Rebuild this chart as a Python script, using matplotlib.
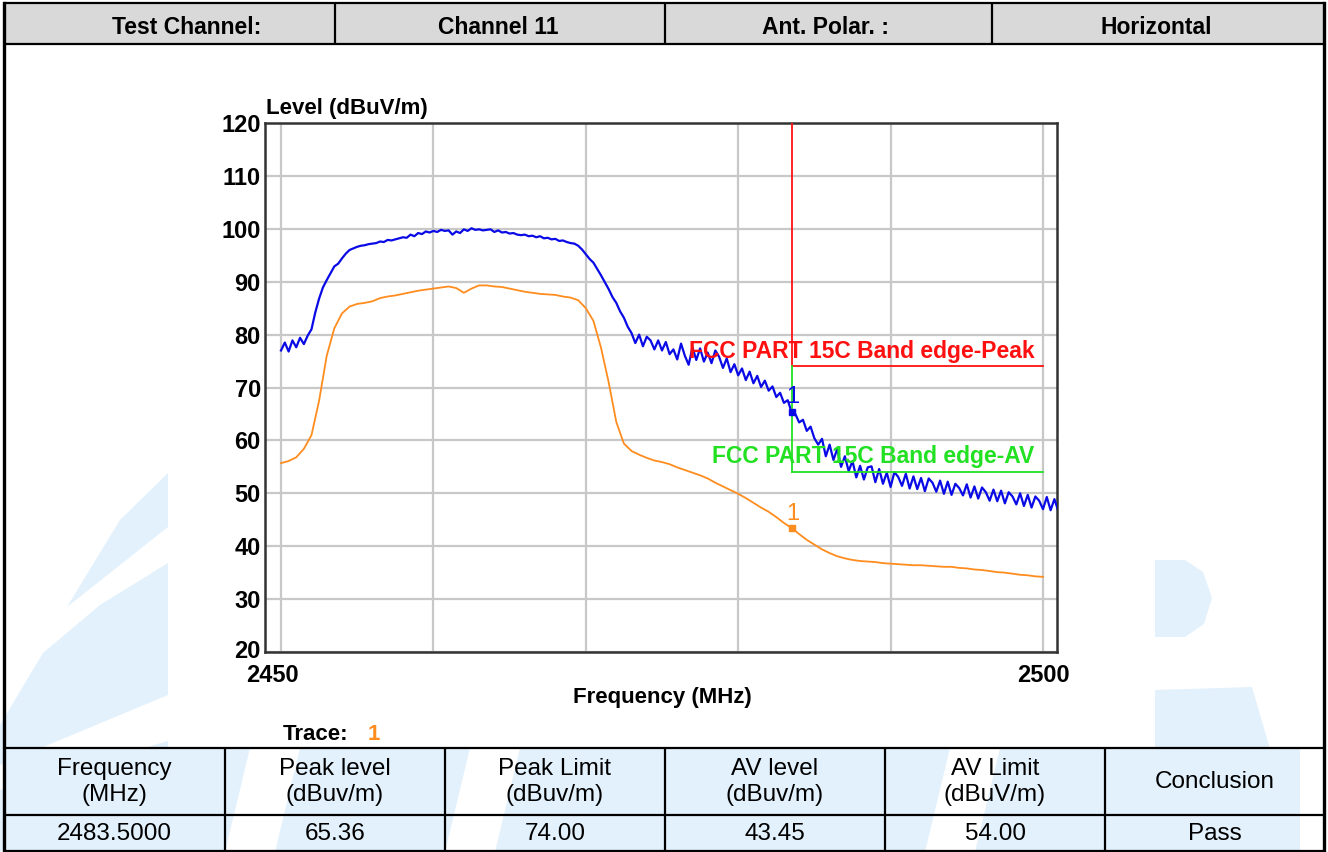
import matplotlib
matplotlib.use("Agg")
import matplotlib.pyplot as plt
from matplotlib.patches import Rectangle, Polygon
from matplotlib.transforms import ScaledTranslation

# ---------------- data ----------------
peak_freq_start, peak_freq_step = 2450.0, 0.25
peak_level = [
    77.0, 78.5, 76.8, 78.9, 77.6, 79.4, 78.2, 79.8, 81.0, 84.2,
    86.8, 88.9, 90.3, 91.6, 92.9, 93.4, 94.4, 95.3, 96.0, 96.3,
    96.6, 96.8, 96.9, 97.1, 97.2, 97.3, 97.6, 97.5, 97.9, 97.8,
    98.0, 98.2, 98.4, 98.3, 98.9, 98.6, 99.2, 99.0, 99.5, 99.3,
    99.6, 99.4, 99.8, 99.6, 99.7, 98.9, 99.5, 99.2, 99.9, 99.6,
    100.1, 99.8, 99.9, 99.7, 99.8, 99.9, 99.4, 99.7, 99.3, 99.4,
    99.1, 99.2, 98.9, 98.8, 98.9, 98.6, 98.7, 98.4, 98.6, 98.2,
    98.3, 98.0, 98.1, 97.7, 97.8, 97.5, 97.3, 97.2, 96.8, 96.1,
    95.2, 94.3, 93.6, 92.4, 91.2, 89.9, 88.6, 87.1, 86.0, 84.4,
    83.2, 81.5, 80.3, 78.4, 80.0, 77.8, 79.6, 78.9, 77.2, 78.9,
    77.0, 78.6, 76.3, 77.2, 75.3, 78.3, 76.0, 74.3, 77.6, 75.2,
    77.4, 74.9, 76.6, 74.6, 77.0, 75.8, 73.7, 75.5, 72.9, 74.4,
    72.3, 73.6, 71.4, 73.0, 70.8, 72.2, 70.1, 71.3, 69.4, 70.2,
    68.2, 69.0, 67.1, 67.6, 65.36, 65.0, 63.4, 63.9, 61.8, 62.6,
    60.4, 59.2, 60.3, 57.0, 59.2, 56.3, 58.4, 55.0, 57.0, 54.2,
    56.1, 53.0, 55.2, 52.6, 54.9, 55.1, 52.1, 54.6, 51.8, 53.9,
    51.2, 54.0, 53.1, 51.4, 53.7, 50.9, 53.2, 50.8, 52.9, 50.4,
    52.8, 52.0, 50.3, 52.4, 49.9, 52.2, 49.7, 51.8, 51.0, 49.6,
    51.7, 49.2, 51.3, 49.0, 51.1, 50.2, 48.6, 50.7, 48.5, 50.5,
    48.1, 50.2, 49.4, 47.9, 50.0, 47.6, 49.7, 47.3, 49.4, 48.6,
    47.0, 49.3, 46.8, 48.9, 46.7, 48.6, 47.9, 46.6, 48.2, 47.0,
    47.5,
]
av_freq_start, av_freq_step = 2450.0, 0.5
av_level = [
    55.7, 56.1, 56.8, 58.4, 61.0, 67.5, 76.0, 81.2, 84.0, 85.3,
    85.8, 86.0, 86.3, 86.9, 87.2, 87.4, 87.7, 88.0, 88.3, 88.5,
    88.7, 88.9, 89.1, 88.8, 87.9, 88.7, 89.3, 89.3, 89.1, 89.0,
    88.7, 88.4, 88.1, 87.9, 87.7, 87.6, 87.5, 87.2, 87.0, 86.5,
    85.0, 82.6, 77.5, 71.0, 63.5, 59.4, 58.0, 57.3, 56.7, 56.2,
    55.9, 55.5, 54.9, 54.4, 53.9, 53.4, 52.8, 52.0, 51.3, 50.6,
    49.9, 49.1, 48.2, 47.3, 46.5, 45.5, 44.4, 43.45, 42.3, 41.2,
    40.3, 39.4, 38.7, 38.1, 37.7, 37.4, 37.2, 37.1, 37.0, 36.8,
    36.7, 36.6, 36.5, 36.4, 36.4, 36.3, 36.2, 36.1, 36.1, 35.9,
    35.8, 35.6, 35.5, 35.3, 35.1, 35.0, 34.8, 34.6, 34.5, 34.3,
    34.2,
]
x_ticks = [2450, 2460, 2470, 2480, 2490, 2500]
x_tick_labels = ["2450", "", "", "", "", "2500"]
y_ticks = [20, 30, 40, 50, 60, 70, 80, 90, 100, 110, 120]

edge_freq = 2483.5
peak_limit = 74.0
av_limit = 54.0
marker_peak = 65.36
marker_av = 43.45
limit_top = 120.0
freq_end = 2500.0

header_cells = ["Test Channel:", "Channel 11", "Ant. Polar. :", "Horizontal"]
table_head = ["Frequency\n(MHz)", "Peak level\n(dBuv/m)", "Peak Limit\n(dBuv/m)",
              "AV level\n(dBuv/m)", "AV Limit\n(dBuV/m)", "Conclusion"]
table_row = ["2483.5000", "65.36", "74.00", "43.45", "54.00", "Pass"]

peak_freq = [peak_freq_start + i * peak_freq_step for i in range(len(peak_level))]
av_freq = [av_freq_start + i * av_freq_step for i in range(len(av_level))]

# ---------------- figure ----------------
W, H = 1328, 852
plt.rcParams['font.family'] = ['Liberation Sans', 'DejaVu Sans']
fig = plt.figure(figsize=(W / 100, H / 100), dpi=100)
fig.patch.set_facecolor('white')

bg = fig.add_axes([0, 0, 1, 1])
bg.set_xlim(0, W)
bg.set_ylim(H, 0)
bg.axis('off')

wm = '#e2f1fc'
# watermark shapes
bg.add_patch(Rectangle((4, 748), 1321, 104, facecolor=wm, edgecolor='none', zorder=0))
for pts in [
    [(168, 473), (120, 520), (67, 607), (168, 527)],
    [(168, 563), (100, 605), (43, 653), (0, 725), (0, 765), (168, 695)],
    [(0, 790), (168, 741), (168, 748), (0, 852)],
    [(1155, 560), (1185, 560), (1203, 572), (1212, 598), (1204, 624), (1185, 637), (1155, 637)],
    [(1155, 690), (1252, 687), (1300, 852), (1155, 852)],
]:
    bg.add_patch(Polygon(pts, closed=True, facecolor=wm, edgecolor='none', zorder=0))
for pts in [
    [(250, 748), (300, 748), (275, 852), (225, 852)],
    [(470, 748), (520, 748), (495, 852), (445, 852)],
    [(950, 748), (1000, 748), (975, 852), (925, 852)],
    [(1300, 748), (1325, 748), (1325, 852), (1300, 852)],
]:
    bg.add_patch(Polygon(pts, closed=True, facecolor='white', edgecolor='none', zorder=0.5))

# header
bg.add_patch(Rectangle((4, 3), 1321, 41, facecolor='#d9d9d9', edgecolor='none', zorder=1))
lk = dict(color='black', lw=1.6, zorder=3, solid_capstyle='butt')
bg.plot([4, 1325], [3, 3], **lk)
bg.plot([4, 1325], [44, 44], **lk)
for xv in [335, 665, 992]:
    bg.plot([xv, xv], [3, 44], **lk)
hx = [187, 498, 826, 1156]
for t, xc in zip(header_cells, hx):
    bg.text(xc, 27, t, ha='center', va='center', fontsize=16.5, fontweight='bold', zorder=4)

# outer frame
bg.plot([4, 4], [3, H], color='black', lw=2.4, zorder=3)
bg.plot([1324, 1324], [3, H], color='black', lw=2.4, zorder=3)

# bottom table
bg.plot([4, 1325], [748, 748], **lk)
bg.plot([4, 1325], [815, 815], **lk)
bg.plot([4, 1325], [851, 851], **lk)
col_edges = [4, 225, 445, 665, 885, 1105, 1325]
for xv in col_edges[1:-1]:
    bg.plot([xv, xv], [748, H], **lk)
for i in range(6):
    xc = (col_edges[i] + col_edges[i + 1]) / 2
    bg.text(xc, 782, table_head[i], ha='center', va='center', fontsize=17.5,
            linespacing=1.22, zorder=4)
    bg.text(xc, 834, table_row[i], ha='center', va='center', fontsize=17.5, zorder=4)

# ---------------- chart ----------------
L, R, T, B = 265, 1057, 123, 652
ax = fig.add_axes([L / W, 1 - B / H, (R - L) / W, (B - T) / H])
ax.set_facecolor('white')
ax.set_xlim(2448.95, 2500.92)
ax.set_ylim(20, 120)
ax.set_xticks(x_ticks)
ax.set_xticklabels(x_tick_labels)
ax.set_yticks(y_ticks)
ax.set_yticklabels([str(v) for v in y_ticks])
ax.grid(True, color='#c8c8c8', lw=1.6, zorder=0)
ax.tick_params(length=0, labelsize=17, pad=3)
ax.tick_params(axis='x', pad=9)
for lab in ax.get_xticklabels() + ax.get_yticklabels():
    lab.set_fontweight('bold')
xl = ax.get_xticklabels()[0]
xl.set_transform(xl.get_transform() + ScaledTranslation(-0.09, 0, fig.dpi_scale_trans))
yl = ax.get_yticklabels()[0]
yl.set_transform(yl.get_transform() + ScaledTranslation(0, 0.03, fig.dpi_scale_trans))
for s in ax.spines.values():
    s.set_color('#333333')
    s.set_linewidth(1.8)

blue = '#0a0ae6'
orange = '#ff8c1e'
red = '#ff1010'
green = '#22e022'

ax.plot(av_freq, av_level, color=orange, lw=1.3, zorder=3)
ax.plot(peak_freq, peak_level, color=blue, lw=1.6, zorder=4)

ax.plot([edge_freq, edge_freq], [limit_top, peak_limit], color=red, lw=1.3, zorder=5)
ax.plot([edge_freq, freq_end], [peak_limit, peak_limit], color=red, lw=1.3, zorder=5)
ax.plot([edge_freq, edge_freq], [peak_limit, av_limit], color=green, lw=1.3, zorder=5)
ax.plot([edge_freq, freq_end], [av_limit, av_limit], color=green, lw=1.3, zorder=5)

ax.annotate('FCC PART 15C Band edge-Peak', xy=(freq_end, peak_limit), xytext=(-6, 11),
            textcoords='offset points', ha='right', va='center', color=red,
            fontsize=16.5, fontweight='bold', zorder=6)
ax.annotate('FCC PART 15C Band edge-AV', xy=(freq_end, av_limit), xytext=(-6, 11),
            textcoords='offset points', ha='right', va='center', color=green,
            fontsize=16.5, fontweight='bold', zorder=6)

ax.plot([edge_freq], [marker_peak], 's', ms=4, color=blue, zorder=7)
ax.plot([edge_freq], [marker_av], 's', ms=4, color=orange, zorder=7)
ax.annotate('1', xy=(edge_freq, marker_peak), xytext=(1, 11), textcoords='offset points',
            ha='center', va='center', color=blue, fontsize=17, zorder=7)
ax.annotate('1', xy=(edge_freq, marker_av), xytext=(1, 10), textcoords='offset points',
            ha='center', va='center', color=orange, fontsize=17, zorder=7)

# axis titles
bg.text(266, 114, 'Level (dBuV/m)', ha='left', va='baseline', fontsize=16,
        fontweight='bold', zorder=4)
bg.text(662, 698, 'Frequency (MHz)', ha='center', va='center', fontsize=16,
        fontweight='bold', zorder=4)
bg.text(283, 735, 'Trace:', ha='left', va='center', fontsize=16, fontweight='bold', zorder=4)
bg.text(368, 735, '1', ha='left', va='center', fontsize=16, fontweight='bold',
        color=orange, zorder=4)

fig.savefig('out.png', dpi=100, facecolor='white')
